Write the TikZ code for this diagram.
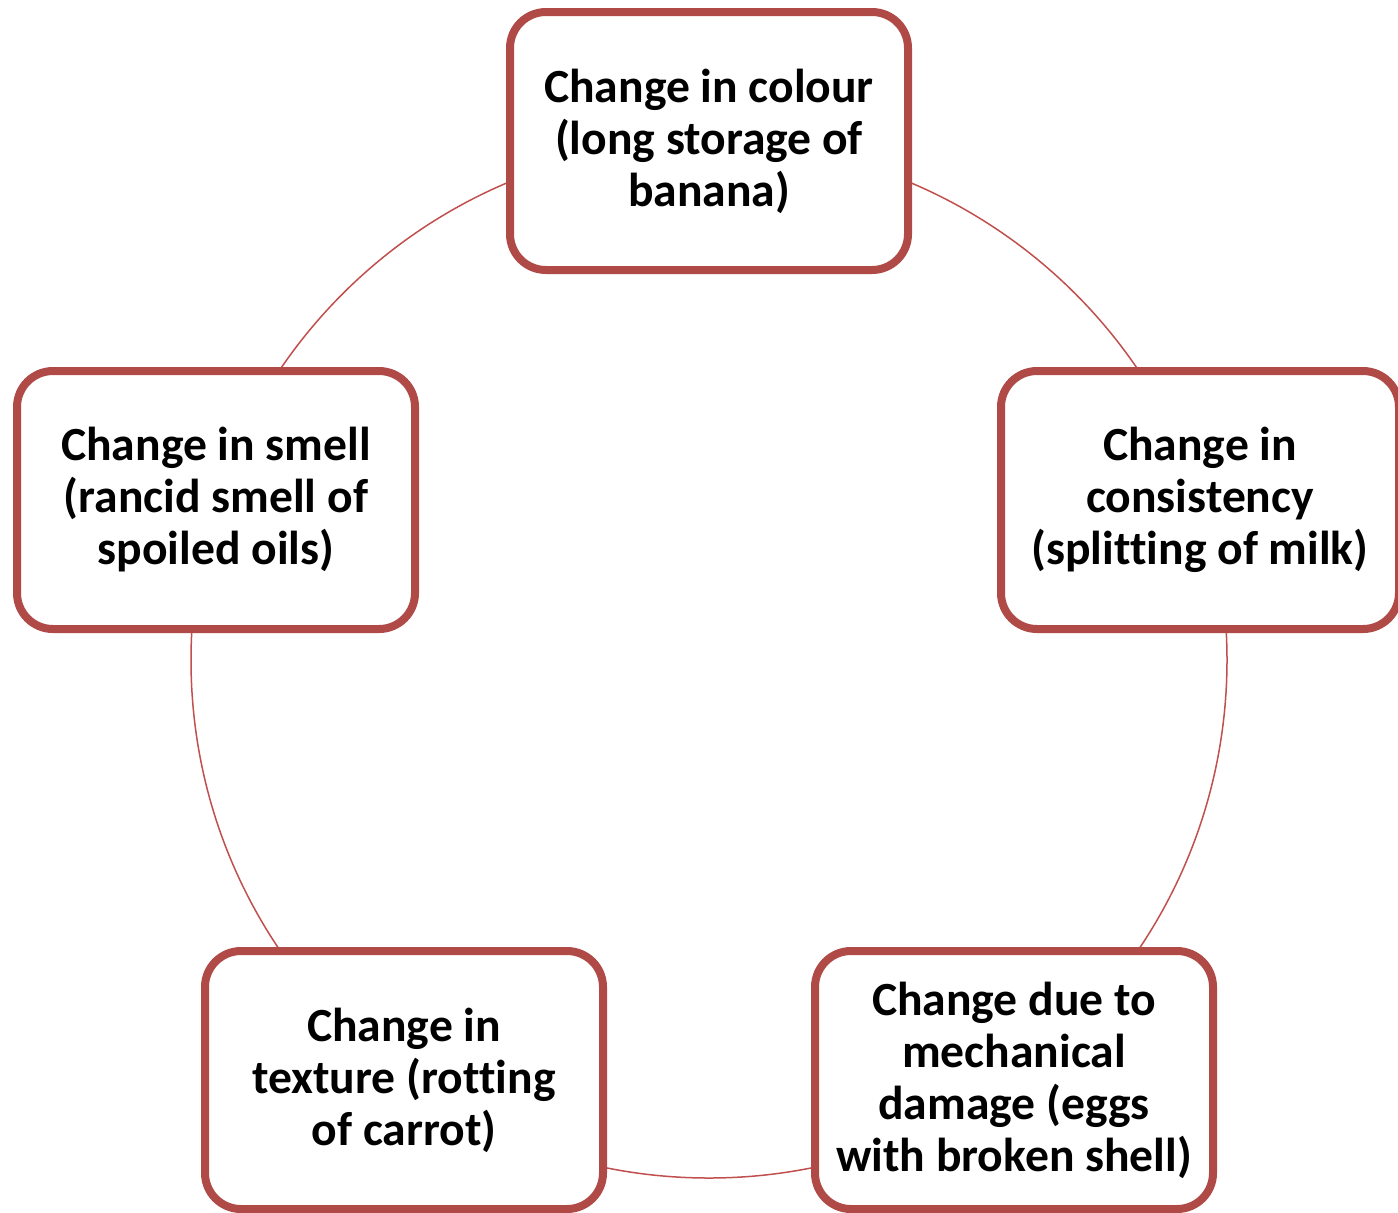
\documentclass[tikz,border=0pt]{standalone}
\usepackage{fontspec}
\setmainfont{Carlito}[Ligatures=NoCommon]
\usetikzlibrary{shadows}
\definecolor{boxred}{RGB}{176,74,71}
\definecolor{ringred}{RGB}{192,80,77}
\begin{document}
\begin{tikzpicture}[x=0.5pt, y=-0.5pt,
    spoil/.style={rectangle, rounded corners=18pt, draw=boxred, line width=4pt,
        fill=white, minimum width=199pt, minimum height=129pt, align=center,
        font=\fontsize{23.8}{26}\selectfont\bfseries,
        drop shadow={opacity=0.25, shadow xshift=0pt, shadow yshift=-1.5pt}}
]
    \useasboundingbox (0,0) rectangle (1398,1212);
    \coordinate (mid) at (709,660);
    \draw[ringred, line width=0.75pt] (mid) circle (259pt);

    \node[spoil] at (709,141) (colour) {Change in colour\\(long storage of\\banana)};
    \node[spoil] at (1200,500) (consist) {Change in\\consistency\\(splitting of milk)};
    \node[spoil] at (1014,1080) (damage) {Change due to\\mechanical\\damage (eggs\\with broken shell)};
    \node[spoil] at (404,1080) (texture) {Change in\\texture (rotting\\of carrot)};
    \node[spoil] at (216,500) (smell) {Change in smell\\(rancid smell of\\spoiled oils)};
\end{tikzpicture}
\end{document}
